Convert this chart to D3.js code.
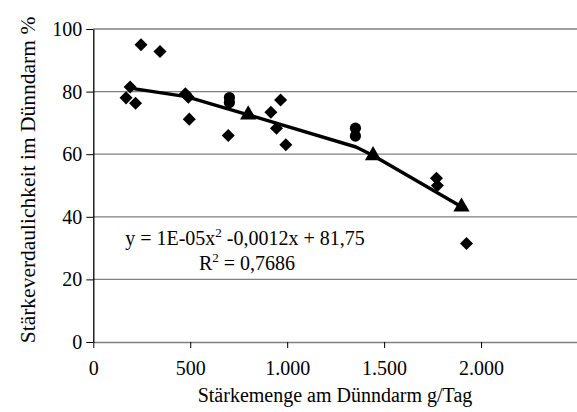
<!DOCTYPE html>
<html><head><meta charset="utf-8">
<script src="https://cdn.jsdelivr.net/npm/d3@7"></script>
<style>body{margin:0;background:#fff}svg{display:block;font-family:"Liberation Serif","Times New Roman",serif}</style>
</head><body><svg id="c" width="577" height="412"></svg>
<script>
const diamondX = [246, 344, 190, 169, 218, 475, 490, 495, 696, 916, 945, 966, 993, 1770, 1775, 1925];
const diamondY = [95, 92.8, 81.5, 78, 76.3, 79.3, 78.2, 71.2, 66, 73.4, 68.3, 77.3, 63, 52.3, 50, 31.5];
const circleX = [702, 702, 1352, 1352];
const circleY = [78.1, 76.5, 68.3, 65.8];
const predX = [190, 480, 799, 1355, 1443, 1899];
const predY = [81.1, 78.4, 72.6, 62.3, 59.6, 43.2];
const triIdx = [2, 4, 5];
const xTicks = [0, 500, 1000, 1500, 2000];
const xTickLabels = ["0", "500", "1.000", "1.500", "2.000"];
const yTicks = [0, 20, 40, 60, 80, 100];

const svg = d3.select("#c");
const x = d3.scaleLinear().domain([0, 2500]).range([93.3, 578]);
const y = d3.scaleLinear().domain([0, 100]).range([342, 29]);
const FS = 20;

// gridlines
svg.append("g").selectAll("line").data(yTicks.filter(d => d > 0)).join("line")
  .attr("x1", 93.3).attr("x2", 578).attr("y1", d => y(d)).attr("y2", d => y(d))
  .attr("stroke", "#808080").attr("stroke-width", 1.3);

// x axis
const xAxis = d3.axisBottom(x).tickValues(xTicks).tickFormat((d, i) => xTickLabels[i]).tickSizeInner(6).tickSizeOuter(0).tickPadding(13);
const gx = svg.append("g").attr("transform", `translate(0,${y(0)})`).call(xAxis);
gx.select(".domain").attr("stroke", "#808080").attr("stroke-width", 1.3);
gx.selectAll(".tick line").attr("stroke", "#000");
gx.selectAll("text").attr("font-size", FS).attr("font-family", "Liberation Serif").attr("fill", "#000");

// y axis
const yAxis = d3.axisLeft(y).tickValues(yTicks).tickSizeInner(7).tickSizeOuter(0).tickPadding(4);
const gy = svg.append("g").attr("transform", `translate(93.3,0)`).call(yAxis);
gy.select(".domain").attr("stroke", "#000").attr("stroke-width", 1.3);
gy.selectAll(".tick line").attr("stroke", "#000");
gy.selectAll("text").attr("font-size", FS).attr("font-family", "Liberation Serif").attr("fill", "#000");

// axis titles
svg.append("text").attr("x", 335).attr("y", 402).attr("text-anchor", "middle").attr("font-size", FS)
  .text("Stärkemenge am Dünndarm g/Tag");
svg.append("text").attr("transform", "translate(35,180) rotate(-90)").attr("text-anchor", "middle").attr("font-size", 21.5)
  .text("Stärkeverdaulichkeit im Dünndarm %");

// diamonds
const diam = d3.symbol().type(d3.symbolSquare).size(85);
svg.append("g").selectAll("path").data(diamondX.map((d, i) => [d, diamondY[i]])).join("path")
  .attr("d", diam).attr("transform", d => `translate(${x(d[0])},${y(d[1])}) rotate(45)`).attr("fill", "#000");

// circles
svg.append("g").selectAll("circle").data(circleX.map((d, i) => [d, circleY[i]])).join("circle")
  .attr("cx", d => x(d[0])).attr("cy", d => y(d[1])).attr("r", 5.6).attr("fill", "#000");

// predicted line
const pts = predX.map((d, i) => [d, predY[i]]);
svg.append("path").datum(pts).attr("d", d3.line().x(d => x(d[0])).y(d => y(d[1])))
  .attr("fill", "none").attr("stroke", "#000").attr("stroke-width", 3.4).attr("stroke-linejoin", "round");
const tri = d3.symbol().type(d3.symbolTriangle).size(115);
svg.append("g").selectAll("path").data(triIdx.map(i => pts[i])).join("path")
  .attr("d", tri).attr("transform", d => `translate(${x(d[0])},${y(d[1])})`).attr("fill", "#000");

// equation
const eq = svg.append("text").attr("x", 245).attr("y", 245).attr("text-anchor", "middle").attr("font-size", FS);
eq.append("tspan").text("y = 1E-05x");
eq.append("tspan").attr("font-size", 13).attr("dy", -8).text("2");
eq.append("tspan").attr("dy", 8).text(" -0,0012x + 81,75");
const r2 = svg.append("text").attr("x", 247).attr("y", 270).attr("text-anchor", "middle").attr("font-size", FS);
r2.append("tspan").text("R");
r2.append("tspan").attr("font-size", 13).attr("dy", -8).text("2");
r2.append("tspan").attr("dy", 8).text(" = 0,7686");
</script></body></html>
